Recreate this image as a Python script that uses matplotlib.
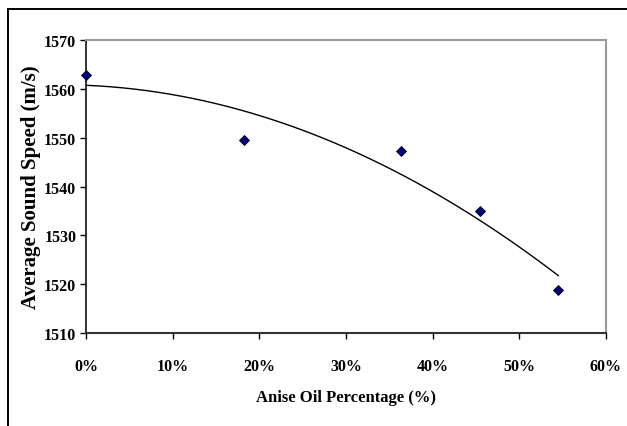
import numpy as np
import matplotlib

matplotlib.use("Agg")
import matplotlib.pyplot as plt
from matplotlib.ticker import PercentFormatter
from matplotlib.lines import Line2D

# measured points
oil_pct = [0.0, 0.182, 0.364, 0.455, 0.545]
sound_speed = [1562.8, 1549.5, 1547.2, 1535.0, 1518.9]

plt.rcParams["font.family"] = ["Liberation Serif", "DejaVu Serif"]
plt.rcParams["font.weight"] = "bold"

W, H = 627, 427
fig = plt.figure(figsize=(W / 100, H / 100), dpi=100)
ax = fig.add_axes([86 / W, 1 - 334 / H, (606 - 86) / W, (334 - 41) / H])

# chart-area border (only top and left edges visible in the crop)
fig.lines.append(Line2D([8 / W, 1.0], [1 - 10 / H, 1 - 10 / H],
                        transform=fig.transFigure, color="black", linewidth=1.4))
fig.lines.append(Line2D([8 / W, 8 / W], [0.0, 1 - 10 / H],
                        transform=fig.transFigure, color="black", linewidth=1.4))

# 2nd-order polynomial trendline (Excel style)
coef = np.polyfit(oil_pct, sound_speed, 2)
xt = np.linspace(min(oil_pct), max(oil_pct), 200)
ax.plot(xt, np.polyval(coef, xt), color="black", linewidth=1.0)

ax.plot(oil_pct, sound_speed, linestyle="none", marker="D", markersize=5,
        markerfacecolor="#000080", markeredgecolor="black", markeredgewidth=0.6,
        clip_on=False, zorder=5)

ax.set_xlim(0, 0.6)
ax.set_ylim(1510, 1570)
ax.set_xticks(np.arange(0, 0.61, 0.1))
ax.set_yticks(np.arange(1510, 1571, 10))
ax.xaxis.set_major_formatter(PercentFormatter(1.0, decimals=0))
ax.tick_params(direction="out", length=4, width=1, labelsize=11.5)
ax.tick_params(axis="x", pad=14)
ax.tick_params(axis="y", pad=3)
for lab in ax.get_xticklabels() + ax.get_yticklabels():
    lab.set_fontweight("bold")

ax.spines["left"].set_linewidth(1.3)
ax.spines["left"].set_color("#222222")
ax.spines["bottom"].set_linewidth(1.5)
ax.spines["bottom"].set_color("#333333")
ax.spines["top"].set_color("#999999")
ax.spines["top"].set_linewidth(1.5)
ax.spines["right"].set_color("#999999")
ax.spines["right"].set_linewidth(1.5)

ax.set_xlabel("Anise Oil Percentage (%)", fontsize=12, fontweight="bold", labelpad=11)
ax.set_ylabel("Average Sound Speed (m/s)", fontsize=15, fontweight="bold", labelpad=2)

fig.savefig("out.png", dpi=100)
